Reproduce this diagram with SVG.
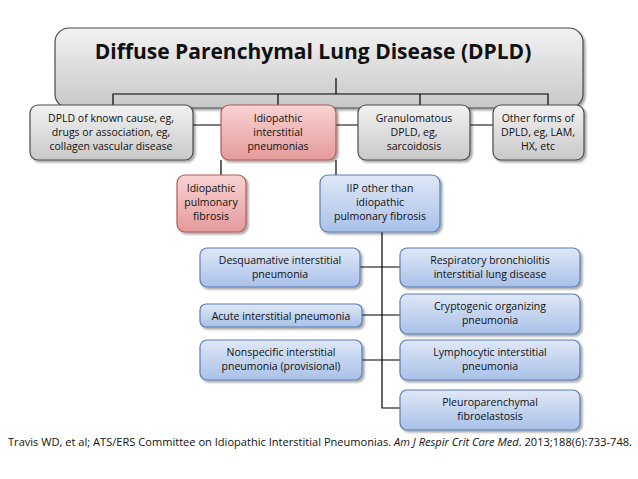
<svg xmlns="http://www.w3.org/2000/svg" width="638" height="479" viewBox="0 0 638 479">
<defs>
<linearGradient id="gg" x1="0" y1="0" x2="0" y2="1"><stop offset="0" stop-color="#f2f2f2"/><stop offset="1" stop-color="#c8c8c8"/></linearGradient>
<linearGradient id="pg" x1="0" y1="0" x2="0" y2="1"><stop offset="0" stop-color="#f9d3d3"/><stop offset="1" stop-color="#e49a9a"/></linearGradient>
<linearGradient id="bg" x1="0" y1="0" x2="0" y2="1"><stop offset="0" stop-color="#dfe8f7"/><stop offset="1" stop-color="#a9c1e8"/></linearGradient>
<filter id="sh" x="-10%" y="-10%" width="130%" height="140%"><feDropShadow dx="2" dy="2" stdDeviation="1.2" flood-color="#000" flood-opacity="0.35"/></filter>
</defs>
<style>
.g{fill:url(#gg);stroke:#4a4a4a;stroke-width:1.2;filter:url(#sh)}
.p{fill:url(#pg);stroke:#b05a5a;stroke-width:1.2;filter:url(#sh)}
.b{fill:url(#bg);stroke:#5a7db5;stroke-width:1.2;filter:url(#sh)}
text{font-family:"Open Sans","Liberation Sans",sans-serif;font-size:10.5px;fill:#111;text-anchor:middle}
.t{font-size:21px;font-weight:bold}
.c{font-size:10.5px;text-anchor:start}
#conn line,#conn path{stroke:#000;stroke-width:1.2;fill:none}
</style>
<rect width="638" height="479" fill="#fff"/>
<g id="root"><rect class="g" x="55" y="28" width="528" height="80" rx="14"/><text class="t" x="313" y="59">Diffuse Parenchymal Lung Disease (DPLD)</text></g>
<g id="conn">
<line x1="336" y1="78" x2="336" y2="94"/>
<path d="M113 105V94H548V105M278 94V105M420 94V105"/>
<line x1="193" y1="125" x2="493" y2="125"/>
<line x1="221" y1="160" x2="221" y2="175"/>
<line x1="336" y1="160" x2="336" y2="175"/>
<path d="M382 232V408H400M360 267H400M362 315H400M362 360H400"/>
</g>
<g id="n1"><rect class="g" x="30" y="105" width="163" height="55" rx="8"/><text x="111" y="122">DPLD of known cause, eg,</text><text x="111" y="136">drugs or association, eg,</text><text x="111" y="150">collagen vascular disease</text></g>
<g id="n2"><rect class="p" x="221" y="105" width="115" height="55" rx="8"/><text x="278" y="122">Idiopathic</text><text x="278" y="136">interstitial</text><text x="278" y="150">pneumonias</text></g>
<g id="n3"><rect class="g" x="358" y="105" width="112" height="55" rx="8"/><text x="414" y="122">Granulomatous</text><text x="414" y="136">DPLD, eg,</text><text x="414" y="150">sarcoidosis</text></g>
<g id="n4"><rect class="g" x="493" y="105" width="91" height="55" rx="8"/><text x="538" y="122">Other forms of</text><text x="538" y="136">DPLD, eg, LAM,</text><text x="538" y="150">HX, etc</text></g>
<g id="ipf"><rect class="p" x="177" y="175" width="69" height="57" rx="8"/><text x="211" y="192">Idiopathic</text><text x="211" y="206">pulmonary</text><text x="211" y="220">fibrosis</text></g>
<g id="iip"><rect class="b" x="320" y="175" width="120" height="57" rx="8"/><text x="380" y="192">IIP other than</text><text x="380" y="206">idiopathic</text><text x="380" y="220">pulmonary fibrosis</text></g>
<g id="dip"><rect class="b" x="200" y="248" width="160" height="39" rx="7"/><text x="280" y="264">Desquamative interstitial</text><text x="280" y="278">pneumonia</text></g>
<g id="aip"><rect class="b" x="200" y="304" width="162" height="23" rx="6"/><text x="281" y="320">Acute interstitial pneumonia</text></g>
<g id="nsip"><rect class="b" x="200" y="340" width="162" height="40" rx="7"/><text x="281" y="356">Nonspecific interstitial</text><text x="281" y="370">pneumonia (provisional)</text></g>
<g id="rb"><rect class="b" x="400" y="248" width="180" height="39" rx="7"/><text x="490" y="264">Respiratory bronchiolitis</text><text x="490" y="278">interstitial lung disease</text></g>
<g id="cop"><rect class="b" x="400" y="294" width="180" height="40" rx="7"/><text x="490" y="310">Cryptogenic organizing</text><text x="490" y="324">pneumonia</text></g>
<g id="lip"><rect class="b" x="400" y="340" width="180" height="40" rx="7"/><text x="490" y="356">Lymphocytic interstitial</text><text x="490" y="370">pneumonia</text></g>
<g id="ppfe"><rect class="b" x="400" y="390" width="180" height="40" rx="7"/><text x="490" y="406">Pleuroparenchymal</text><text x="490" y="420">fibroelastosis</text></g>
<text class="c" x="8" y="446" textLength="624" lengthAdjust="spacingAndGlyphs">Travis WD, et al; ATS/ERS Committee on Idiopathic Interstitial Pneumonias. <tspan font-style="italic">Am J Respir Crit Care Med</tspan>. 2013;188(6):733-748.</text>
</svg>
